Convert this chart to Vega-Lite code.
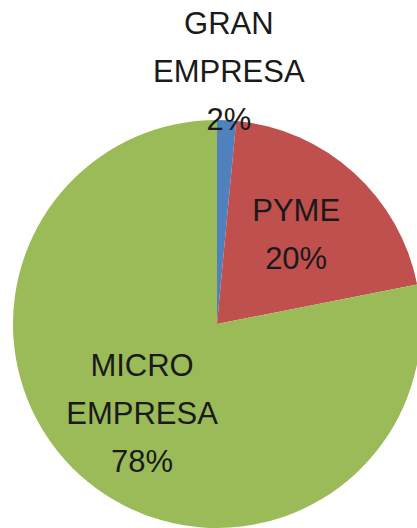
{
  "$schema": "https://vega.github.io/schema/vega-lite/v6.json",
  "width": 434,
  "height": 648,
  "padding": 0,
  "autosize": {"type": "none"},
  "background": "#ffffff",
  "view": {"stroke": null},
  "data": {
    "values": [
      {"segmento": "GRAN EMPRESA", "valor": 1.5, "orden": 1, "etiqueta": "GRAN\nEMPRESA\n2%"},
      {"segmento": "PYME", "valor": 20.4, "orden": 2, "etiqueta": "PYME\n20%"},
      {"segmento": "MICRO EMPRESA", "valor": 78.1, "orden": 3, "etiqueta": "MICRO\nEMPRESA\n78%"}
    ]
  },
  "encoding": {
    "theta": {"field": "valor", "type": "quantitative", "stack": true},
    "order": {"field": "orden", "type": "quantitative"}
  },
  "layer": [
    {
      "mark": {"type": "arc", "outerRadius": 204},
      "encoding": {
        "color": {
          "field": "segmento",
          "type": "nominal",
          "scale": {"domain": ["GRAN EMPRESA", "PYME", "MICRO EMPRESA"], "range": ["#4F81BD", "#C0504D", "#9BBB59"]},
          "legend": null
        }
      }
    },
    {
      "mark": {"type": "text", "radius": 118, "dy": -24, "font": "Liberation Sans", "fontSize": 31, "lineHeight": 48, "lineBreak": "\n", "align": "center", "baseline": "middle", "color": "#1a1a1a"},
      "encoding": {
        "text": {"condition": {"test": "datum.segmento === 'PYME'", "field": "etiqueta"}, "value": ""}
      }
    },
    {
      "mark": {"type": "text", "radius": 118, "dy": -48, "font": "Liberation Sans", "fontSize": 31, "lineHeight": 48, "lineBreak": "\n", "align": "center", "baseline": "middle", "color": "#1a1a1a"},
      "encoding": {
        "text": {"condition": {"test": "datum.segmento === 'MICRO EMPRESA'", "field": "etiqueta"}, "value": ""}
      }
    },
    {
      "mark": {"type": "text", "radius": 251, "dy": -48, "font": "Liberation Sans", "fontSize": 31, "lineHeight": 48, "lineBreak": "\n", "align": "center", "baseline": "middle", "color": "#1a1a1a"},
      "encoding": {
        "text": {"condition": {"test": "datum.segmento === 'GRAN EMPRESA'", "field": "etiqueta"}, "value": ""}
      }
    }
  ]
}
